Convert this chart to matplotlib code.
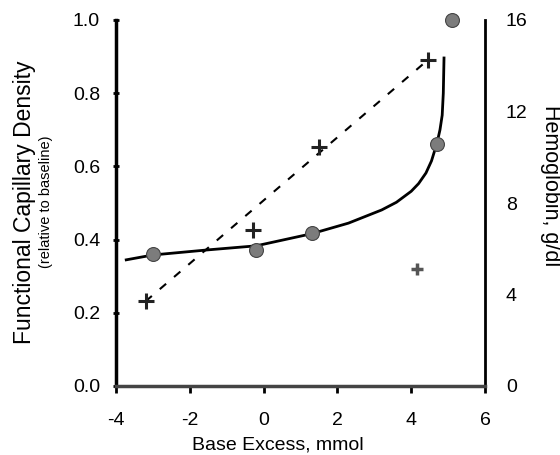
import matplotlib.pyplot as plt

plt.rcParams['font.family'] = ['Liberation Sans', 'DejaVu Sans']

# Functional capillary density (left axis) vs base excess
fcd_x = [-3.0, -0.2, 1.3, 4.7, 5.1]
fcd_y = [0.36, 0.372, 0.418, 0.662, 1.0]

# fitted FCD curve, sampled along its length
curve_x = [-3.76, -3.0, -1.5, -0.2, 1.3, 2.3, 3.2, 3.6, 4.0, 4.2, 4.4, 4.55, 4.7, 4.78, 4.84, 4.87, 4.89]
curve_y = [0.344, 0.358, 0.372, 0.383, 0.416, 0.445, 0.481, 0.502, 0.532, 0.553, 0.582, 0.615, 0.664, 0.70, 0.74, 0.80, 0.90]

# Hemoglobin (right axis) vs base excess
hb_x = [-3.2, -0.3, 1.5, 4.45]
hb_y = [3.7, 6.8, 10.45, 14.25]
hb_out_x = [4.15]
hb_out_y = [5.1]
hb_fit_x = [-3.2, 4.45]
hb_fit_y = [3.7, 14.25]

fig = plt.figure(figsize=(5.6, 4.55), dpi=100)
ax = fig.add_axes([116 / 560, 69 / 455, 369 / 560, 366 / 455])

ax.plot(curve_x, curve_y, color='black', lw=2, solid_capstyle='butt', zorder=2)
ax.plot(fcd_x, fcd_y, 'o', ms=10, color='#7c7c7c', mec='#444444', mew=0.8,
        zorder=3, clip_on=False)

ax.set_xlim(-4, 6)
ax.set_ylim(0, 1.0)
ax.set_xticks([-4, -2, 0, 2, 4, 6])
ax.set_xticklabels(['-4', '-2', '0', '2', '4', '6'])
ax.set_yticks([0.0, 0.2, 0.4, 0.6, 0.8, 1.0])
ax.set_yticklabels(['0.0', '0.2', '0.4', '0.6', '0.8', '1.0'])
ax.tick_params(axis='x', direction='out', length=5, width=2, pad=14, labelsize=14)
ax.tick_params(axis='y', direction='inout', length=5, width=2, pad=9, labelsize=14)
ax.spines['top'].set_visible(False)
ax.spines['right'].set_visible(False)
ax.spines['left'].set_linewidth(2.5)
ax.spines['bottom'].set_linewidth(2.5)
ax.spines['bottom'].set_color('#444444')

ax2 = ax.twinx()
ax2.plot(hb_fit_x, hb_fit_y, color='black', lw=1.5, ls=(0, (4, 5)), zorder=2)
ax2.plot(hb_x, hb_y, '+', ms=12, mew=2.2, color='#222222', zorder=3)
ax2.plot(hb_out_x, hb_out_y, '+', ms=8, mew=2.5, color='#555555', zorder=3)
ax2.set_ylim(0, 16)
ax2.set_yticks([0, 4, 8, 12, 16])
ax2.tick_params(axis='y', length=0, pad=15, labelsize=14)
ax2.spines['top'].set_visible(False)
ax2.spines['left'].set_visible(False)
ax2.spines['bottom'].set_visible(False)
ax2.spines['right'].set_linewidth(2)

# the FCD dots sit above the twin axes so the top one is not hidden
ax.set_zorder(ax2.get_zorder() + 1)
ax.patch.set_visible(False)

fig.text(278 / 560, 1 - 445 / 455, 'Base Excess, mmol', ha='center', va='center', fontsize=14)
fig.text(25 / 560, 1 - 202 / 455, 'Functional Capillary Density', rotation=90,
         ha='center', va='center', fontsize=16.5)
fig.text(46 / 560, 1 - 202 / 455, '(relative to baseline)', rotation=90,
         ha='center', va='center', fontsize=10.5)
fig.text(551 / 560, 1 - 186 / 455, 'Hemoglobin, g/dl', rotation=-90,
         ha='center', va='center', fontsize=15.5)

fig.savefig('out.png', dpi=100)
